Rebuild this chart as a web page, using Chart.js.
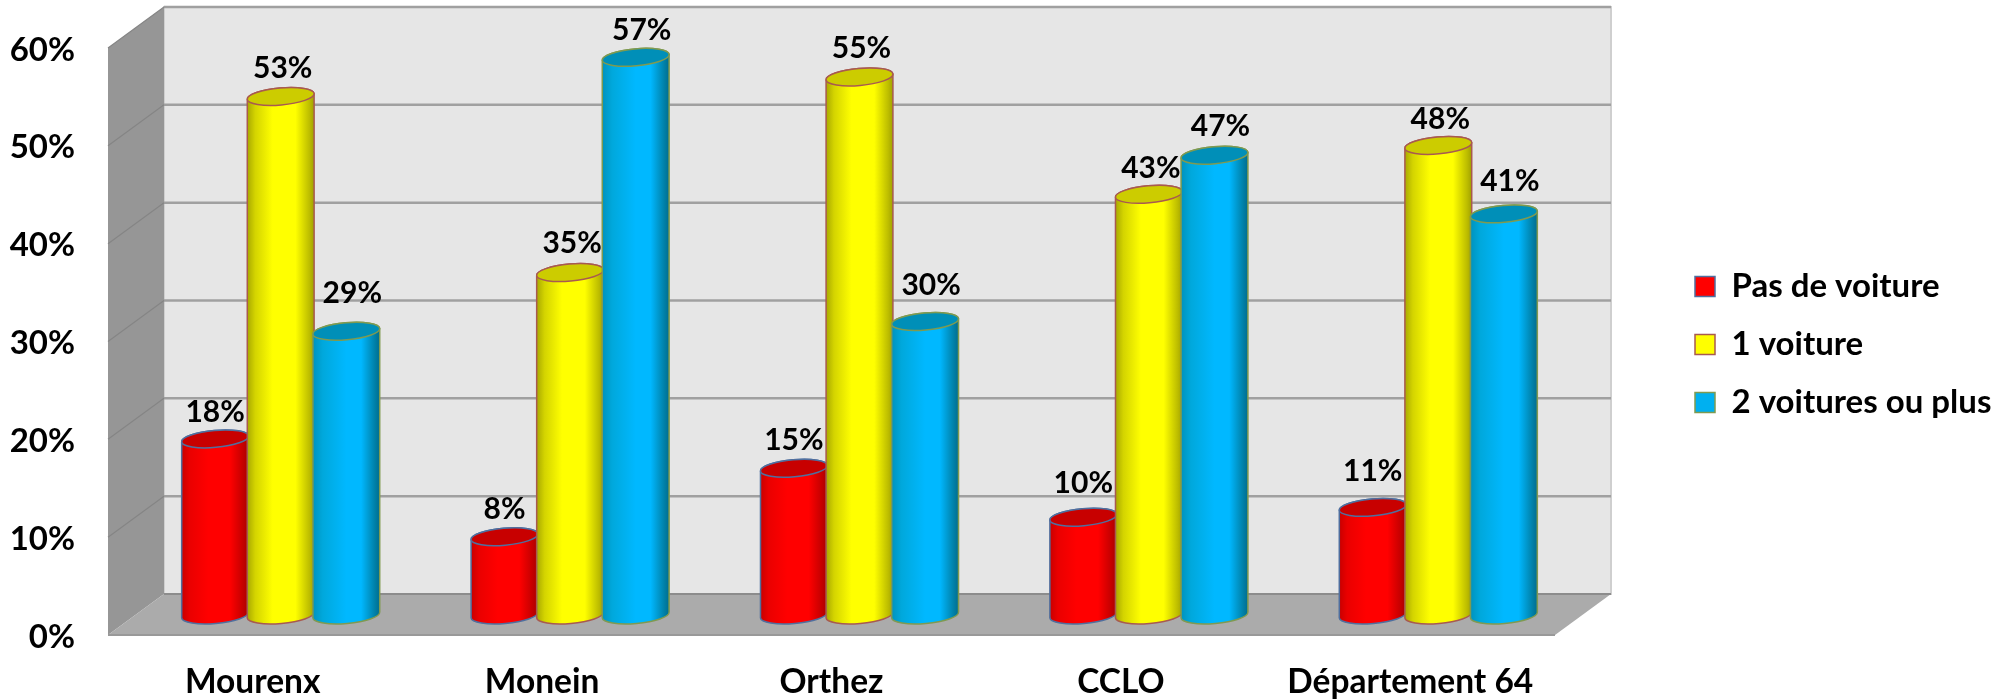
<!DOCTYPE html>
<html><head><meta charset="utf-8">
<style>html,body{margin:0;padding:0;background:#fff;overflow:hidden}canvas{display:block}</style>
<script src="https://cdn.jsdelivr.net/npm/chart.js@4/dist/chart.umd.min.js"></script>
</head><body><canvas id="c" width="2015" height="699"></canvas>
<script>
const categories = ["Mourenx","Monein","Orthez","CCLO","Département 64"];
const pasDeVoiture = [18,8,15,10,11];
const uneVoiture = [53,35,55,43,48];
const deuxVoitures = [29,57,30,47,41];
const seriesNames = ["Pas de voiture","1 voiture","2 voitures ou plus"];
const yTicks = [0,10,20,30,40,50,60];

const DX = 28, DY = -20, DEPTH_X = 56, DEPTH_Y = -41;
const FONT = 'Lato, Carlito, sans-serif';
// fine placement of the value labels above each cylinder (label styling, per series and category)
const labelLift = [[27,27,28,34,36],[28,29,29,26,26],[38,27,36,29,33]];
const labelShift = [0,2,6];
const styles = [
  {fill:'#ff0000',border:'#4f6f9f',cap:'#c80000',stops:[[0,'#c80000'],[.12,'#ea0000'],[.4,'#ff0000'],[.72,'#ff0000'],[.93,'#c00000'],[1,'#a80000']]},
  {fill:'#ffff00',border:'#a85a50',cap:'#cccc00',stops:[[0,'#a8a800'],[.12,'#d4d400'],[.38,'#ffff00'],[.72,'#ffff00'],[.93,'#bcbc00'],[1,'#a0a000']]},
  {fill:'#00b0f0',border:'#7f9a50',cap:'#008fb8',stops:[[0,'#0092bd'],[.15,'#00a8dc'],[.5,'#00b8ff'],[.72,'#00b8ff'],[.93,'#007fa6'],[1,'#006c8e']]}
];

const scene = {
  id:'scene',
  afterLayout(chart){
    const l = chart.legend;
    l.left = 1695 - 25; l.top = 245; l.right = 2015; l.bottom = 699; l.width = 345; l.height = 454;
  },
  beforeDatasetsDraw(chart){
    const {ctx, chartArea:a, scales:{y}} = chart;
    const x0=a.left, x1=a.right, yB=y.getPixelForValue(0), yT=y.getPixelForValue(60);
    ctx.save();
    ctx.fillStyle='#e6e6e6';
    ctx.fillRect(x0+DEPTH_X,yT+DEPTH_Y,x1-x0,yB-yT);
    ctx.strokeStyle='#cfcfcf';ctx.lineWidth=2;
    ctx.strokeRect(x0+DEPTH_X,yT+DEPTH_Y,x1-x0,yB-yT);
    ctx.fillStyle='#969696';
    ctx.beginPath();ctx.moveTo(x0,yT);ctx.lineTo(x0+DEPTH_X,yT+DEPTH_Y);ctx.lineTo(x0+DEPTH_X,yB+DEPTH_Y);ctx.lineTo(x0,yB);ctx.closePath();ctx.fill();
    ctx.fillStyle='#ababab';
    ctx.beginPath();ctx.moveTo(x0,yB);ctx.lineTo(x0+DEPTH_X,yB+DEPTH_Y);ctx.lineTo(x1+DEPTH_X,yB+DEPTH_Y);ctx.lineTo(x1,yB);ctx.closePath();ctx.fill();
    ctx.strokeStyle='#999999';ctx.lineWidth=2;
    ctx.beginPath();ctx.moveTo(x0,yB);ctx.lineTo(x1,yB);ctx.stroke();
    ctx.strokeStyle='#8c8c8c';
    ctx.beginPath();ctx.moveTo(x0+DEPTH_X,yB+DEPTH_Y);ctx.lineTo(x1+DEPTH_X,yB+DEPTH_Y);ctx.stroke();
    yTicks.forEach(v=>{
      if(v===0) return;
      const p=y.getPixelForValue(v);
      ctx.strokeStyle='#a0a0a0';ctx.lineWidth=2.5;
      ctx.beginPath();ctx.moveTo(x0+DEPTH_X,p+DEPTH_Y);ctx.lineTo(x1+DEPTH_X,p+DEPTH_Y);ctx.stroke();
      ctx.strokeStyle='#858585';ctx.lineWidth=1.2;
      ctx.beginPath();ctx.moveTo(x0,p);ctx.lineTo(x0+DEPTH_X,p+DEPTH_Y);ctx.stroke();
    });
    ctx.restore();
  },
  beforeDatasetDraw(){ return false; },
  afterDatasetsDraw(chart){
    const {ctx} = chart;
    const TH = -5*Math.PI/180;
    categories.forEach((_,i)=>{
      chart.data.datasets.forEach((ds,d)=>{
        const el = chart.getDatasetMeta(d).data[i];
        const st = styles[d];
        const cx = el.x+DX, w = el.width+1.5, rx=w/2, ry=8.5;
        const top = el.y+DY, base = el.base+DY;
        const ex = rx*Math.cos(TH), ey = rx*Math.sin(TH);
        const g = ctx.createLinearGradient(cx-rx,0,cx+rx,0);
        st.stops.forEach(s=>g.addColorStop(s[0],s[1]));
        ctx.save();
        ctx.beginPath();
        ctx.moveTo(cx-ex,top-ey);
        ctx.lineTo(cx-ex,base-ey);
        ctx.ellipse(cx,base,rx,ry,TH,Math.PI,0,true);
        ctx.lineTo(cx+ex,top+ey);
        ctx.ellipse(cx,top,rx,ry,TH,0,Math.PI,true);
        ctx.closePath();
        ctx.fillStyle=g;ctx.fill();
        ctx.strokeStyle=st.border;ctx.lineWidth=1.5;ctx.stroke();
        ctx.beginPath();
        ctx.ellipse(cx,top,rx,ry,TH,0,Math.PI*2);
        ctx.fillStyle=st.cap;ctx.fill();ctx.stroke();
        ctx.restore();
      });
    });
    categories.forEach((_,i)=>{
      chart.data.datasets.forEach((ds,d)=>{
        const el = chart.getDatasetMeta(d).data[i];
        ctx.save();
        ctx.font='bold 30px '+FONT;
        ctx.fillStyle='#000';ctx.textAlign='center';ctx.textBaseline='middle';
        ctx.fillText(ds.data[i]+'%',el.x+DX+labelShift[d],el.y+DY-labelLift[d][i]);
        ctx.restore();
      });
    });
  }
};

new Chart(document.getElementById('c'),{
  type:'bar',
  plugins:[scene],
  data:{labels:categories,datasets:[
    {label:seriesNames[0],data:pasDeVoiture,backgroundColor:styles[0].fill,borderColor:styles[0].border,borderWidth:1.5},
    {label:seriesNames[1],data:uneVoiture,backgroundColor:styles[1].fill,borderColor:styles[1].border,borderWidth:1.5},
    {label:seriesNames[2],data:deuxVoitures,backgroundColor:'#00b0f0',borderColor:styles[2].border,borderWidth:1.5}
  ]},
  options:{
    responsive:false,animation:false,
    layout:{padding:{left:0,top:48,right:460,bottom:0}},
    categoryPercentage:.68,barPercentage:1,
    scales:{
      x:{
        grid:{display:false},border:{display:false},
        ticks:{font:{family:FONT,size:33.5,weight:'bold'},color:'#000',padding:19,maxRotation:0,autoSkip:false},
        afterFit(s){s.height=64;s.paddingLeft=0;s.paddingRight=0;}
      },
      y:{
        min:0,max:60,
        grid:{display:false,drawTicks:false},border:{display:false},
        afterBuildTicks(s){s.ticks=yTicks.map(v=>({value:v}));},
        ticks:{font:{family:FONT,size:33,weight:'bold'},color:'#000',padding:33,labelOffset:2,callback:v=>v+'%'},
        afterFit(s){s.width=108;s.paddingTop=0;s.paddingBottom=0;}
      }
    },
    plugins:{
      title:{display:false},tooltip:{enabled:false},
      legend:{
        position:'chartArea',align:'start',
        labels:{font:{family:FONT,size:33,weight:'bold'},color:'#000',boxWidth:20,boxHeight:20,padding:25}
      }
    }
  }
});
</script></body></html>
